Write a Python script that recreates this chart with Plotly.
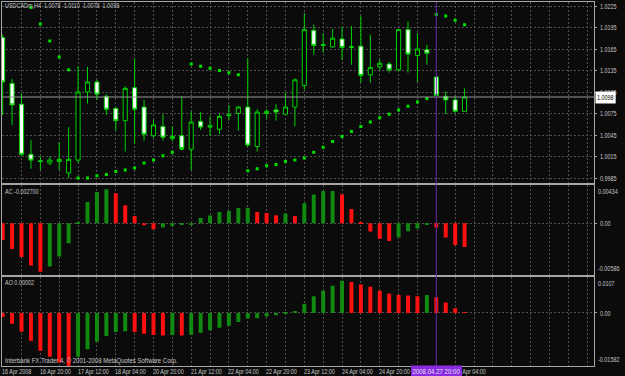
import plotly.graph_objects as go

# ---------------- data ----------------
bars = list(range(50))

opens = [1.0181, 1.0117, 1.0088, 1.0018, 1.0009, 1.0006, 1.0008, 0.9992, 1.0010, 1.0105,
         1.0119, 1.0099, 1.0082, 1.0065, 1.0111, 1.0084, 1.0044, 1.0057, 1.0040, 1.0044,
         1.0025, 1.0064, 1.0056, 1.0053, 1.0072, 1.0075, 1.0084, 1.0029, 1.0075, 1.0080,
         1.0074, 1.0084, 1.0114, 1.0191, 1.0170, 1.0168, 1.0179, 1.0167, 1.0169, 1.0129,
         1.0140, 1.0144, 1.0136, 1.0192, 1.0156, 1.0164, 1.0126, 1.0099, 1.0094, 1.0078]
highs = [1.0185, 1.0123, 1.0103, 1.0038, 1.0015, 1.0015, 1.0035, 1.0056, 1.0141, 1.0140,
         1.0122, 1.0102, 1.0084, 1.0113, 1.0152, 1.0094, 1.0066, 1.0074, 1.0057, 1.0099,
         1.0078, 1.0077, 1.0071, 1.0074, 1.0087, 1.0085, 1.0152, 1.0081, 1.0081, 1.0088,
         1.0104, 1.0124, 1.0215, 1.0199, 1.0187, 1.0193, 1.0196, 1.0197, 1.0211, 1.0185,
         1.0150, 1.0147, 1.0193, 1.0203, 1.0187, 1.0171, 1.0126, 1.0106, 1.0100, 1.0110]
lows = [1.0073, 1.0059, 1.0015, 0.9998, 0.9996, 1.0003, 0.9996, 0.9985, 1.0006, 1.0089,
        1.0094, 1.0073, 1.0051, 1.0022, 1.0033, 1.0037, 1.0041, 1.0037, 1.0036, 1.0024,
        0.9996, 1.0052, 1.0044, 1.0046, 1.0065, 1.0051, 1.0029, 1.0022, 1.0068, 1.0065,
        1.0073, 1.0057, 1.0108, 1.0157, 1.0160, 1.0167, 1.0150, 1.0143, 1.0118, 1.0118,
        1.0135, 1.0132, 1.0134, 1.0132, 1.0119, 1.0143, 1.0100, 1.0074, 1.0076, 1.0078]
closes = [1.0119, 1.0087, 1.0018, 1.0010, 1.0008, 1.0010, 1.0011, 1.0011, 1.0105, 1.0119,
          1.0102, 1.0081, 1.0065, 1.0110, 1.0081, 1.0046, 1.0059, 1.0042, 1.0043, 1.0026,
          1.0063, 1.0056, 1.0058, 1.0071, 1.0073, 1.0084, 1.0031, 1.0077, 1.0078, 1.0077,
          1.0084, 1.0122, 1.0192, 1.0170, 1.0171, 1.0180, 1.0167, 1.0168, 1.0128, 1.0139,
          1.0145, 1.0136, 1.0192, 1.0158, 1.0165, 1.0159, 1.0100, 1.0094, 1.0078, 1.0098]

sar = [None, None, None, 1.0223, 1.0200, 1.0176, 1.0154, 1.0136, 0.9985, 0.9985,
       0.9988, 0.9990, 0.9994, 0.9996, 0.9999, 1.0006, 1.0010, 1.0016, 1.0021, 1.0026,
       1.0144, 1.0141, 1.0138, 1.0135, 1.0132, 1.0129, 0.9995, 0.9998, 1.0002, 1.0004,
       1.0008, 1.0010, 1.0013, 1.0021, 1.0028, 1.0036, 1.0043, 1.0050, 1.0057, 1.0063,
       1.0069, 1.0074, 1.0080, 1.0085, 1.0091, 1.0096, 1.0213, 1.0211, 1.0205, 1.0199]

ac = [-0.00189, -0.00291, -0.00382, -0.00479, -0.00550, -0.00491, -0.00377, -0.00227, 0.00015, 0.00241,
      0.00355, 0.00385, 0.00340, 0.00204, 0.00083, -0.00023, -0.00068, -0.00049, -0.00030, -0.00015,
      -0.00010, 0.00060, 0.00087, 0.00128, 0.00140, 0.00174, 0.00175, 0.00128, 0.00117, 0.00091,
      0.00110, 0.00083, 0.00227, 0.00325, 0.00366, 0.00367, 0.00325, 0.00162, 0.00008, -0.00094,
      -0.00174, -0.00200, -0.00159, -0.00091, -0.00060, -0.00019, -0.00049, -0.00162, -0.00246, -0.00270]
ac_colors = ["r", "r", "r", "r", "r", "g", "g", "g", "g", "g",
             "g", "g", "r", "r", "r", "r", "r", "g", "g", "g",
             "g", "g", "g", "g", "g", "g", "g", "r", "r", "r",
             "g", "r", "g", "g", "g", "g", "r", "r", "r", "r",
             "r", "r", "g", "g", "g", "g", "r", "r", "r", "r"]

ao = [-0.0012, -0.0032, -0.0056, -0.0083, -0.0113, -0.0131, -0.0148, -0.0158, -0.0131, -0.0108,
      -0.0086, -0.0069, -0.0057, -0.0055, -0.0057, -0.0062, -0.0066, -0.0067, -0.0066, -0.0067,
      -0.0065, -0.0059, -0.0052, -0.0044, -0.0038, -0.0027, -0.0017, -0.0016, -0.0011, -0.0007,
      -0.0002, 0.0003, 0.0027, 0.0050, 0.0066, 0.0081, 0.0096, 0.0092, 0.0085, 0.0078,
      0.0066, 0.0058, 0.0053, 0.0052, 0.0050, 0.0053, 0.0047, 0.0031, 0.0014, 0.00002]
ao_colors = ["r", "r", "r", "r", "r", "r", "r", "r", "g", "g",
             "g", "g", "g", "g", "r", "r", "r", "r", "g", "r",
             "g", "g", "g", "g", "g", "g", "g", "g", "g", "g",
             "g", "g", "g", "g", "g", "g", "g", "r", "r", "r",
             "r", "r", "r", "r", "r", "g", "r", "r", "r", "r"]

price_ticks = [1.0225, 1.0195, 1.0165, 1.0135, 1.0105, 1.0075, 1.0045, 1.0015, 0.9985]
ac_max, ac_min = 0.00434, -0.00586
ao_max, ao_min = 0.0107, -0.01582

# the label at bar 44 ("25 Apr 12:00") is fully hidden under the cursor box in the picture
time_label_bars = [0, 4, 8, 12, 16, 20, 24, 28, 32, 36, 40, 48]
time_labels = ["16 Apr 2008", "16 Apr 20:00", "17 Apr 12:00", "18 Apr 04:00", "20 Apr 20:00",
               "21 Apr 12:00", "22 Apr 04:00", "22 Apr 20:00", "23 Apr 12:00", "24 Apr 04:00",
               "24 Apr 20:00", "28 Apr 04:00"]
cursor_bar = 46
cursor_label = "2008.04.27 20:00"

title_text = "USDCADm,H4  1.0078  1.0110  1.0078  1.0098"
ac_text = "AC -0.002700"
ao_text = "AO 0.00002"
copyright_text = "Interbank FX Trader 4, © 2001-2008 MetaQuotes Software Corp."

# ---------------- styling ----------------
W, H = 625, 376
BG = "#0b0b0b"
GRID = "#505050"
FRAME = "#a6a6a6"
TXT = "#c8c8c8"
CANDLE = "#00d200"
FONT = "Liberation Sans, Arial, sans-serif"
FS = 8
K = 0.68  # horizontal squeeze of the (narrow) terminal lettering
red, green = "#ff1010", "#108a10"
cmap = {"r": red, "g": green}


def py(px):  # pixel row -> paper fraction
    return 1 - px / H


fig = go.Figure()

fig.add_trace(go.Candlestick(
    x=bars, open=opens, high=highs, low=lows, close=closes,
    increasing=dict(line=dict(color=CANDLE, width=1), fillcolor="#000000"),
    decreasing=dict(line=dict(color=CANDLE, width=1), fillcolor="#ffffff"),
    whiskerwidth=0, xaxis="x", yaxis="y", showlegend=False, hoverinfo="skip"))

fig.add_trace(go.Scatter(
    x=bars, y=sar, mode="markers", xaxis="x", yaxis="y",
    marker=dict(symbol="square", size=3, color="#00e000", line=dict(width=0)),
    showlegend=False, hoverinfo="skip"))

fig.add_trace(go.Bar(
    x=bars, y=ac, width=0.42, xaxis="x2", yaxis="y2",
    marker=dict(color=[cmap[c] for c in ac_colors], line=dict(width=0)),
    showlegend=False, hoverinfo="skip"))

fig.add_trace(go.Bar(
    x=bars, y=ao, width=0.42, xaxis="x3", yaxis="y3",
    marker=dict(color=[cmap[c] for c in ao_colors], line=dict(width=0)),
    showlegend=False, hoverinfo="skip"))

xr = [-0.073, 62.76]
xdom = [2 / W, 602 / W]
xcommon = dict(range=xr, domain=xdom, showgrid=True, gridcolor=GRID, griddash="2px,2px",
               gridwidth=1, tick0=0, dtick=2, showticklabels=False, ticks="",
               showline=True, linecolor=FRAME, linewidth=1, mirror=True, zeroline=False,
               fixedrange=True)
ycommon = dict(side="right", showline=True, linecolor=FRAME, linewidth=1, mirror=True,
               zeroline=False, gridcolor=GRID, griddash="2px,2px", gridwidth=1,
               ticks="outside", ticklen=2, tickcolor=FRAME, ticklabelstandoff=1,
               tickfont=dict(family=FONT, size=FS, color=TXT), fixedrange=True)

fig.update_layout(
    width=W, height=H, margin=dict(l=0, r=0, t=0, b=0),
    paper_bgcolor=BG, plot_bgcolor=BG, boxgap=0.38, barmode="overlay",
    font=dict(family=FONT, size=FS, color=TXT),
    xaxis=dict(anchor="y", rangeslider=dict(visible=False), **xcommon),
    xaxis2=dict(anchor="y2", matches="x", **xcommon),
    xaxis3=dict(anchor="y3", matches="x", **xcommon),
    yaxis=dict(domain=[py(183), py(2)], range=[0.997803, 1.023058], tickvals=price_ticks,
               ticktext=[f"{v:.4f}" for v in price_ticks], showgrid=True, **ycommon),
    yaxis2=dict(domain=[py(275), py(185)], range=[ac_min, ac_max], tickvals=[0],
                ticktext=["0.00"], showgrid=True, **ycommon),
    yaxis3=dict(domain=[py(366), py(277)], range=[ao_min, ao_max], tickvals=[0],
                ticktext=["0.00"], showgrid=True, **ycommon),
)

# bid line
fig.add_shape(type="line", xref="x domain", x0=0, x1=1, yref="y", y0=closes[-1], y1=closes[-1],
              line=dict(color="#9a9a9a", width=1))
# cursor line
fig.add_shape(type="line", xref="x", x0=cursor_bar, x1=cursor_bar, yref="paper",
              y0=py(366), y1=py(2), line=dict(color="#5a2aa0", width=1))

ann = []
tf = dict(family=FONT, size=FS, color=TXT)


def left_text(text, px_y, k=K):
    return dict(text=text, x=3 / W, y=py(px_y), xref="paper", yref="paper", xanchor="left",
                align="left", yanchor="middle", showarrow=False, font=tf, name=f"k{k}")


ann.append(left_text(title_text, 6))
ann.append(left_text(ac_text, 191))
ann.append(left_text(ao_text, 282))
ann.append(left_text(copyright_text, 360, 0.75))
# panel scale labels
for txt, yv, yr, anc in [(f"{ac_max:.5f}", ac_max, "y2", "top"), (f"{ac_min:.5f}", ac_min, "y2", "bottom"),
                         (f"{ao_max:.4f}", ao_max, "y3", "top"), (f"{ao_min:.5f}", ao_min, "y3", "bottom")]:
    ann.append(dict(text=txt, x=604 / W, y=yv, xref="paper", yref=yr, xanchor="left", align="left",
                    yanchor=anc, showarrow=False, font=tf, name=f"k{K}"))
# time labels (placed in paper units so the first one at the left edge is not dropped)
x0r, x1r = xr
for b, t in zip(time_label_bars, time_labels):
    xp = xdom[0] + (b - x0r) / (x1r - x0r) * (xdom[1] - xdom[0]) - 2.5 / W
    ann.append(dict(text=t, x=xp, y=py(371), xref="paper", yref="paper", xanchor="left",
                    align="left", yanchor="middle", showarrow=False, font=tf, name=f"k{K}"))
# cursor label
ann.append(dict(text=cursor_label, x=cursor_bar, y=py(371), xref="x", yref="paper",
                xanchor="center", yanchor="middle", showarrow=False, bgcolor="#8a2be2",
                borderpad=1, font=dict(family=FONT, size=FS, color="#e8e0f0"), name="k0.76"))
# bid label
ann.append(dict(text=f"{closes[-1]:.4f}", x=603 / W, y=closes[-1], xref="paper", yref="y",
                xanchor="left", align="left", yanchor="middle", showarrow=False, bgcolor="#ffffff",
                borderpad=1, font=dict(family=FONT, size=FS, color="#000000"), name=f"k{K}"))
fig.update_layout(annotations=ann)

squeeze_js = """
var gd = document.getElementById('{plot_id}');
function sq(t, k) {
  try {
    var L = t.getComputedTextLength();
    if (!L || L <= 0) return 0;
    var nL = L * k;
    t.setAttribute('textLength', nL.toFixed(2));
    t.setAttribute('lengthAdjust', 'spacingAndGlyphs');
    return L - nL;
  } catch (e) { return 0; }
}
['ytick', 'y2tick', 'y3tick'].forEach(function (c) {
  gd.querySelectorAll('g.' + c + ' text').forEach(function (t) { sq(t, %K%); });
});
var anns = gd.layout.annotations || [];
gd.querySelectorAll('g.annotation').forEach(function (g) {
  var i = parseInt(g.getAttribute('data-index'));
  var a = anns[i];
  if (!a) return;
  var k = parseFloat((a.name || 'k1').slice(1));
  var t = g.querySelector('text.annotation-text');
  if (!t) return;
  var d = sq(t, k);
  var r = g.querySelector('rect.bg');
  if (r && d) {
    var w = parseFloat(r.getAttribute('width'));
    r.setAttribute('width', (w - d).toFixed(2));
    var anchor = t.getAttribute('text-anchor');
    if (anchor === 'middle') {
      r.setAttribute('x', (parseFloat(r.getAttribute('x') || 0) + d / 2).toFixed(2));
    }
  }
});
""".replace("%K%", str(K))

fig.write_html("out.html", config={"displayModeBar": False}, post_script=squeeze_js)
